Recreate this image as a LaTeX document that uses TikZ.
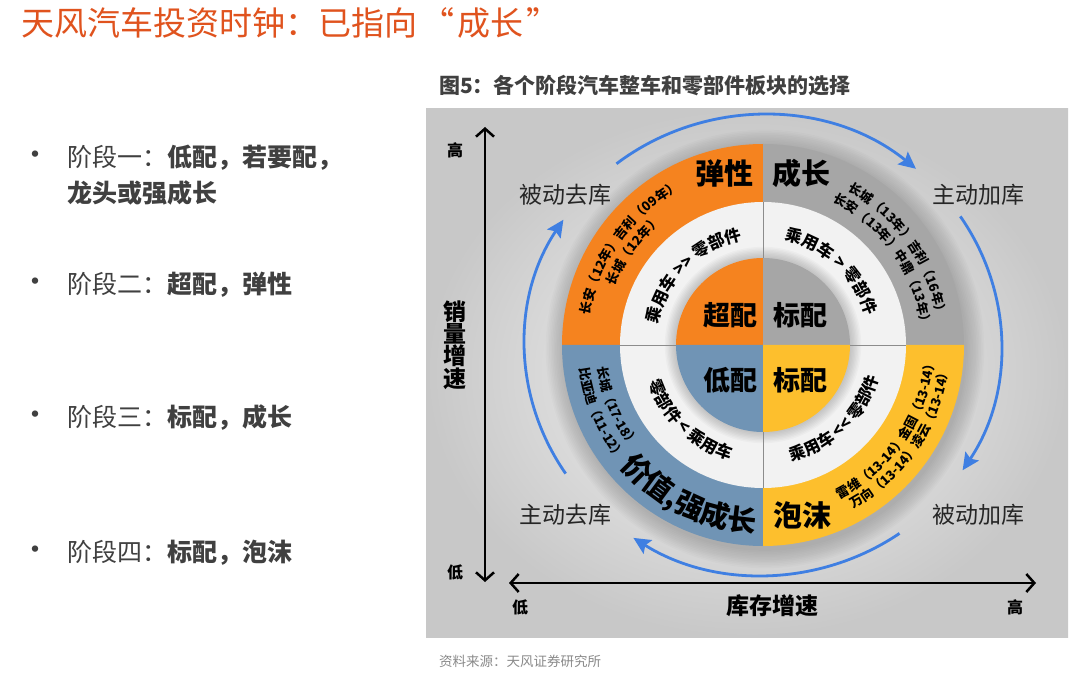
\documentclass[tikz,border=0pt]{standalone}
\usepackage{fontspec}
\usepackage{tikz}
\usetikzlibrary{arrows.meta,decorations.text}
\newfontfamily\cjk{Noto Sans CJK SC}
\definecolor{titlered} {HTML}{E0531E}
\definecolor{bodygray} {HTML}{404040}
\definecolor{panelhi}  {HTML}{F6F6F6}
\definecolor{panello}  {HTML}{C8C8C8}
\definecolor{qorange}  {HTML}{F5831F}
\definecolor{qgray}    {HTML}{A6A6A6}
\definecolor{qblue}    {HTML}{7094B5}
\definecolor{qyellow}  {HTML}{FDBF2D}
\definecolor{ringwhite}{HTML}{F2F2F2}
\definecolor{cycblue}  {HTML}{3F7FE2}
\definecolor{srcgray}  {HTML}{8A8A8A}
\newcommand{\ringsmall}{\cjk\bfseries\fontsize{13}{13}\selectfont}
\newcommand{\ringmid}{\cjk\bfseries\fontsize{16.5}{16.5}\selectfont}
\newcommand{\ringbig}{\cjk\bfseries\fontsize{29}{29}\selectfont}
\tikzset{
  phasetext/.style ={anchor=west, inner sep=0pt, text=bodygray,
                     font=\cjk\fontsize{25}{25}\selectfont},
  phasedot/.style  ={inner sep=0pt, text=bodygray,
                     font=\cjk\fontsize{30}{30}\selectfont},
  cornerlabel/.style={inner sep=0pt, text=black!85,
                     font=\cjk\fontsize{23}{23}\selectfont},
  quadlabel/.style ={inner sep=0pt, font=\cjk\bfseries\fontsize{29}{29}\selectfont},
  corelabel/.style ={inner sep=0pt, font=\cjk\bfseries\fontsize{27}{27}\selectfont},
  axislabel/.style ={inner sep=0pt, font=\cjk\bfseries\fontsize{16}{16}\selectfont},
  axistitle/.style ={inner sep=0pt, align=center,
                     font=\cjk\bfseries\fontsize{23}{22.5}\selectfont},
  axisarr/.style   ={{Straight Barb[length=8pt,width=18pt]}-{Straight Barb[length=8pt,width=18pt]},
                     line width=2.5pt},
  cyclearr/.style  ={-{Stealth[length=17pt,width=16pt,inset=3pt]}, line width=2.8pt, color=cycblue},
  ringtext/.style  ={decorate, decoration={text along path, text align=center, text={#1}}},
}

\begin{document}
\begin{tikzpicture}[x=1pt,y=1pt]
  \useasboundingbox (0,0) rectangle (1080,673);
  \fill[white] (0,0) rectangle (1080,673);

  % Headline and the four phases
  \node[anchor=west, inner sep=0pt, text=titlered,
        font=\cjk\fontsize{33}{33}\selectfont] (title) at (21,650)
    {天风汽车投资时钟：已指向\hspace{4pt}“\hspace{3pt}成长\hspace{3pt}”};

  \node[phasedot]  (dot1)  at (35,515) {•};
  \node[phasetext] (ph1)   at (67,515) {阶段一：{\bfseries 低配，若要配，}};
  \node[phasetext] (ph1b)  at (67,480) {\bfseries 龙头或强成长};
  \node[phasedot]  (dot2)  at (35,388) {•};
  \node[phasetext] (ph2)   at (67,388) {阶段二：{\bfseries 超配，弹性}};
  \node[phasedot]  (dot3)  at (35,255) {•};
  \node[phasetext] (ph3)   at (67,255) {阶段三：{\bfseries 标配，成长}};
  \node[phasedot]  (dot4)  at (35,120) {•};
  \node[phasetext] (ph4)   at (67,120) {阶段四：{\bfseries 标配，泡沫}};

  % Figure panel
  \node[anchor=west, inner sep=0pt, text=bodygray,
        font=\cjk\bfseries\fontsize{21}{21}\selectfont] (caption) at (439,587)
    {图5：各个阶段汽车整车和零部件板块的选择};
  \shade[inner color=panelhi, outer color=panello] (426,36) rectangle (1068,564);
  \node[anchor=west, inner sep=0pt, text=srcgray,
        font=\cjk\fontsize{13.5}{13.5}\selectfont] (source) at (439,12)
    {资料来源：天风证券研究所};

  \begin{scope}[shift={(763,328)}]
    \coordinate (ctr) at (0,0);
    % soft shadow
    \foreach \i in {1,...,12}
      \fill[black, opacity=0.016] (2,-4) circle[radius=200+\i*1.6];

    % quadrants, ring, core
    \foreach \a/\c in {90/qorange, 0/qgray, 180/qblue, 270/qyellow}
      \fill[\c] (ctr) -- (\a:201) arc[start angle=\a, delta angle=90, radius=201] -- cycle;
    \fill[ringwhite] (ctr) circle[radius=143];
    \foreach \i in {1,...,8}
      \fill[black, opacity=0.022] (ctr) circle[radius=87+\i*1.4];
    \foreach \a/\c in {90/qorange, 0/qgray, 180/qblue, 270/qyellow}
      \fill[\c] (ctr) -- (\a:87) arc[start angle=\a, delta angle=90, radius=87] -- cycle;
    \foreach \a in {0,90,180,270}
      \draw[black!45, line width=0.6pt] (\a:87) -- (\a:143);

    % cycle arrows
    \draw[cyclearr] (128:238 and 230) arc[start angle=128, end angle=50, x radius=238, y radius=230];
    \draw[cyclearr] (34:238 and 230)  arc[start angle=34, end angle=-33, x radius=238, y radius=230];
    \draw[cyclearr] (-55:238 and 230) arc[start angle=-55, end angle=-123, x radius=238, y radius=230];
    \draw[cyclearr] (214:238 and 230) arc[start angle=214, end angle=147, x radius=238, y radius=230];

    % outer ring, top half
    \path[ringtext={|\ringsmall|长安（12年）吉利（09年）}]
      (194:176) arc[start angle=194, end angle=94, radius=176];
    \path[ringtext={|\ringsmall|长城（12年）}]
      (194:159) arc[start angle=194, end angle=94, radius=159];
    \path[ringtext={|\ringsmall|长城（13年）吉利（16年）}]
      (85:176) arc[start angle=85, end angle=-15, radius=176];
    \path[ringtext={|\ringsmall|长安（13年）中鼎（13年）}]
      (85:159) arc[start angle=85, end angle=-15, radius=159];

    % outer ring, bottom half
    \path[ringtext={|\ringsmall|长城（17-18）}]
      (-207:167) arc[start angle=-207, end angle=-107, radius=167];
    \path[ringtext={|\ringsmall|比亚迪（11-12）}]
      (-207:185) arc[start angle=-207, end angle=-107, radius=185];
    \path[ringtext={|\ringsmall|雷维（13-14）金固（13-14）}]
      (-84:172) arc[start angle=-84, end angle=16, radius=172];
    \path[ringtext={|\ringsmall|万向（13-14）凌云（13-14）}]
      (-84:187) arc[start angle=-84, end angle=16, radius=187];
    \path[ringtext={|\ringbig|价值,强成长}]
      (-176:187) arc[start angle=-176, end angle=-56, radius=187];

    % middle ring
    \path[ringtext={|\ringmid|乘用车 >> 零部件}]
      (195:107) arc[start angle=195, end angle=75, radius=107];
    \path[ringtext={|\ringmid|乘用车 > 零部件}]
      (107:107) arc[start angle=107, end angle=-13, radius=107];
    \path[ringtext={|\ringmid|零部件 < 乘用车}]
      (-194:120) arc[start angle=-194, end angle=-74, radius=120];
    \path[ringtext={|\ringmid|乘用车 << 零部件}]
      (-106:120) arc[start angle=-106, end angle=14, radius=120];
  \end{scope}

  % quadrant and core labels
  \node[quadlabel] (tanxing)  at (724,500) {弹性};
  \node[quadlabel] (chengz)   at (801,500) {成长};
  \node[quadlabel] (paomo)    at (802,158) {泡沫};
  \node[corelabel] (chaopei)  at (730,358) {超配};
  \node[corelabel] (biaopei1) at (800,358) {标配};
  \node[corelabel] (dipei)    at (730,293) {低配};
  \node[corelabel] (biaopei2) at (800,293) {标配};

  % inventory states
  \node[cornerlabel] (bdqk) at (565,478) {被动去库};
  \node[cornerlabel] (zdjk) at (978,478) {主动加库};
  \node[cornerlabel] (zdqk) at (565,158) {主动去库};
  \node[cornerlabel] (bdjk) at (978,158) {被动加库};

  % axes
  \coordinate (vtop)   at (485,546);
  \coordinate (vbot)   at (485,91);
  \coordinate (hleft)  at (509,90);
  \coordinate (hright) at (1036,90);
  \draw[axisarr] (vbot) -- (vtop);
  \draw[axisarr] (hleft) -- (hright);
  \node[axislabel] (vhigh) at (455,523) {高};
  \node[axislabel] (vlow)  at (455,101) {低};
  \node[axistitle] (vname) at (455,328) {销\\量\\增\\速};
  \node[axislabel] (hlow)  at (520,66)  {低};
  \node[axislabel] (hhigh) at (1015,66) {高};
  \node[axistitle] (hname) at (772,67)  {库存增速};
\end{tikzpicture}
\end{document}
